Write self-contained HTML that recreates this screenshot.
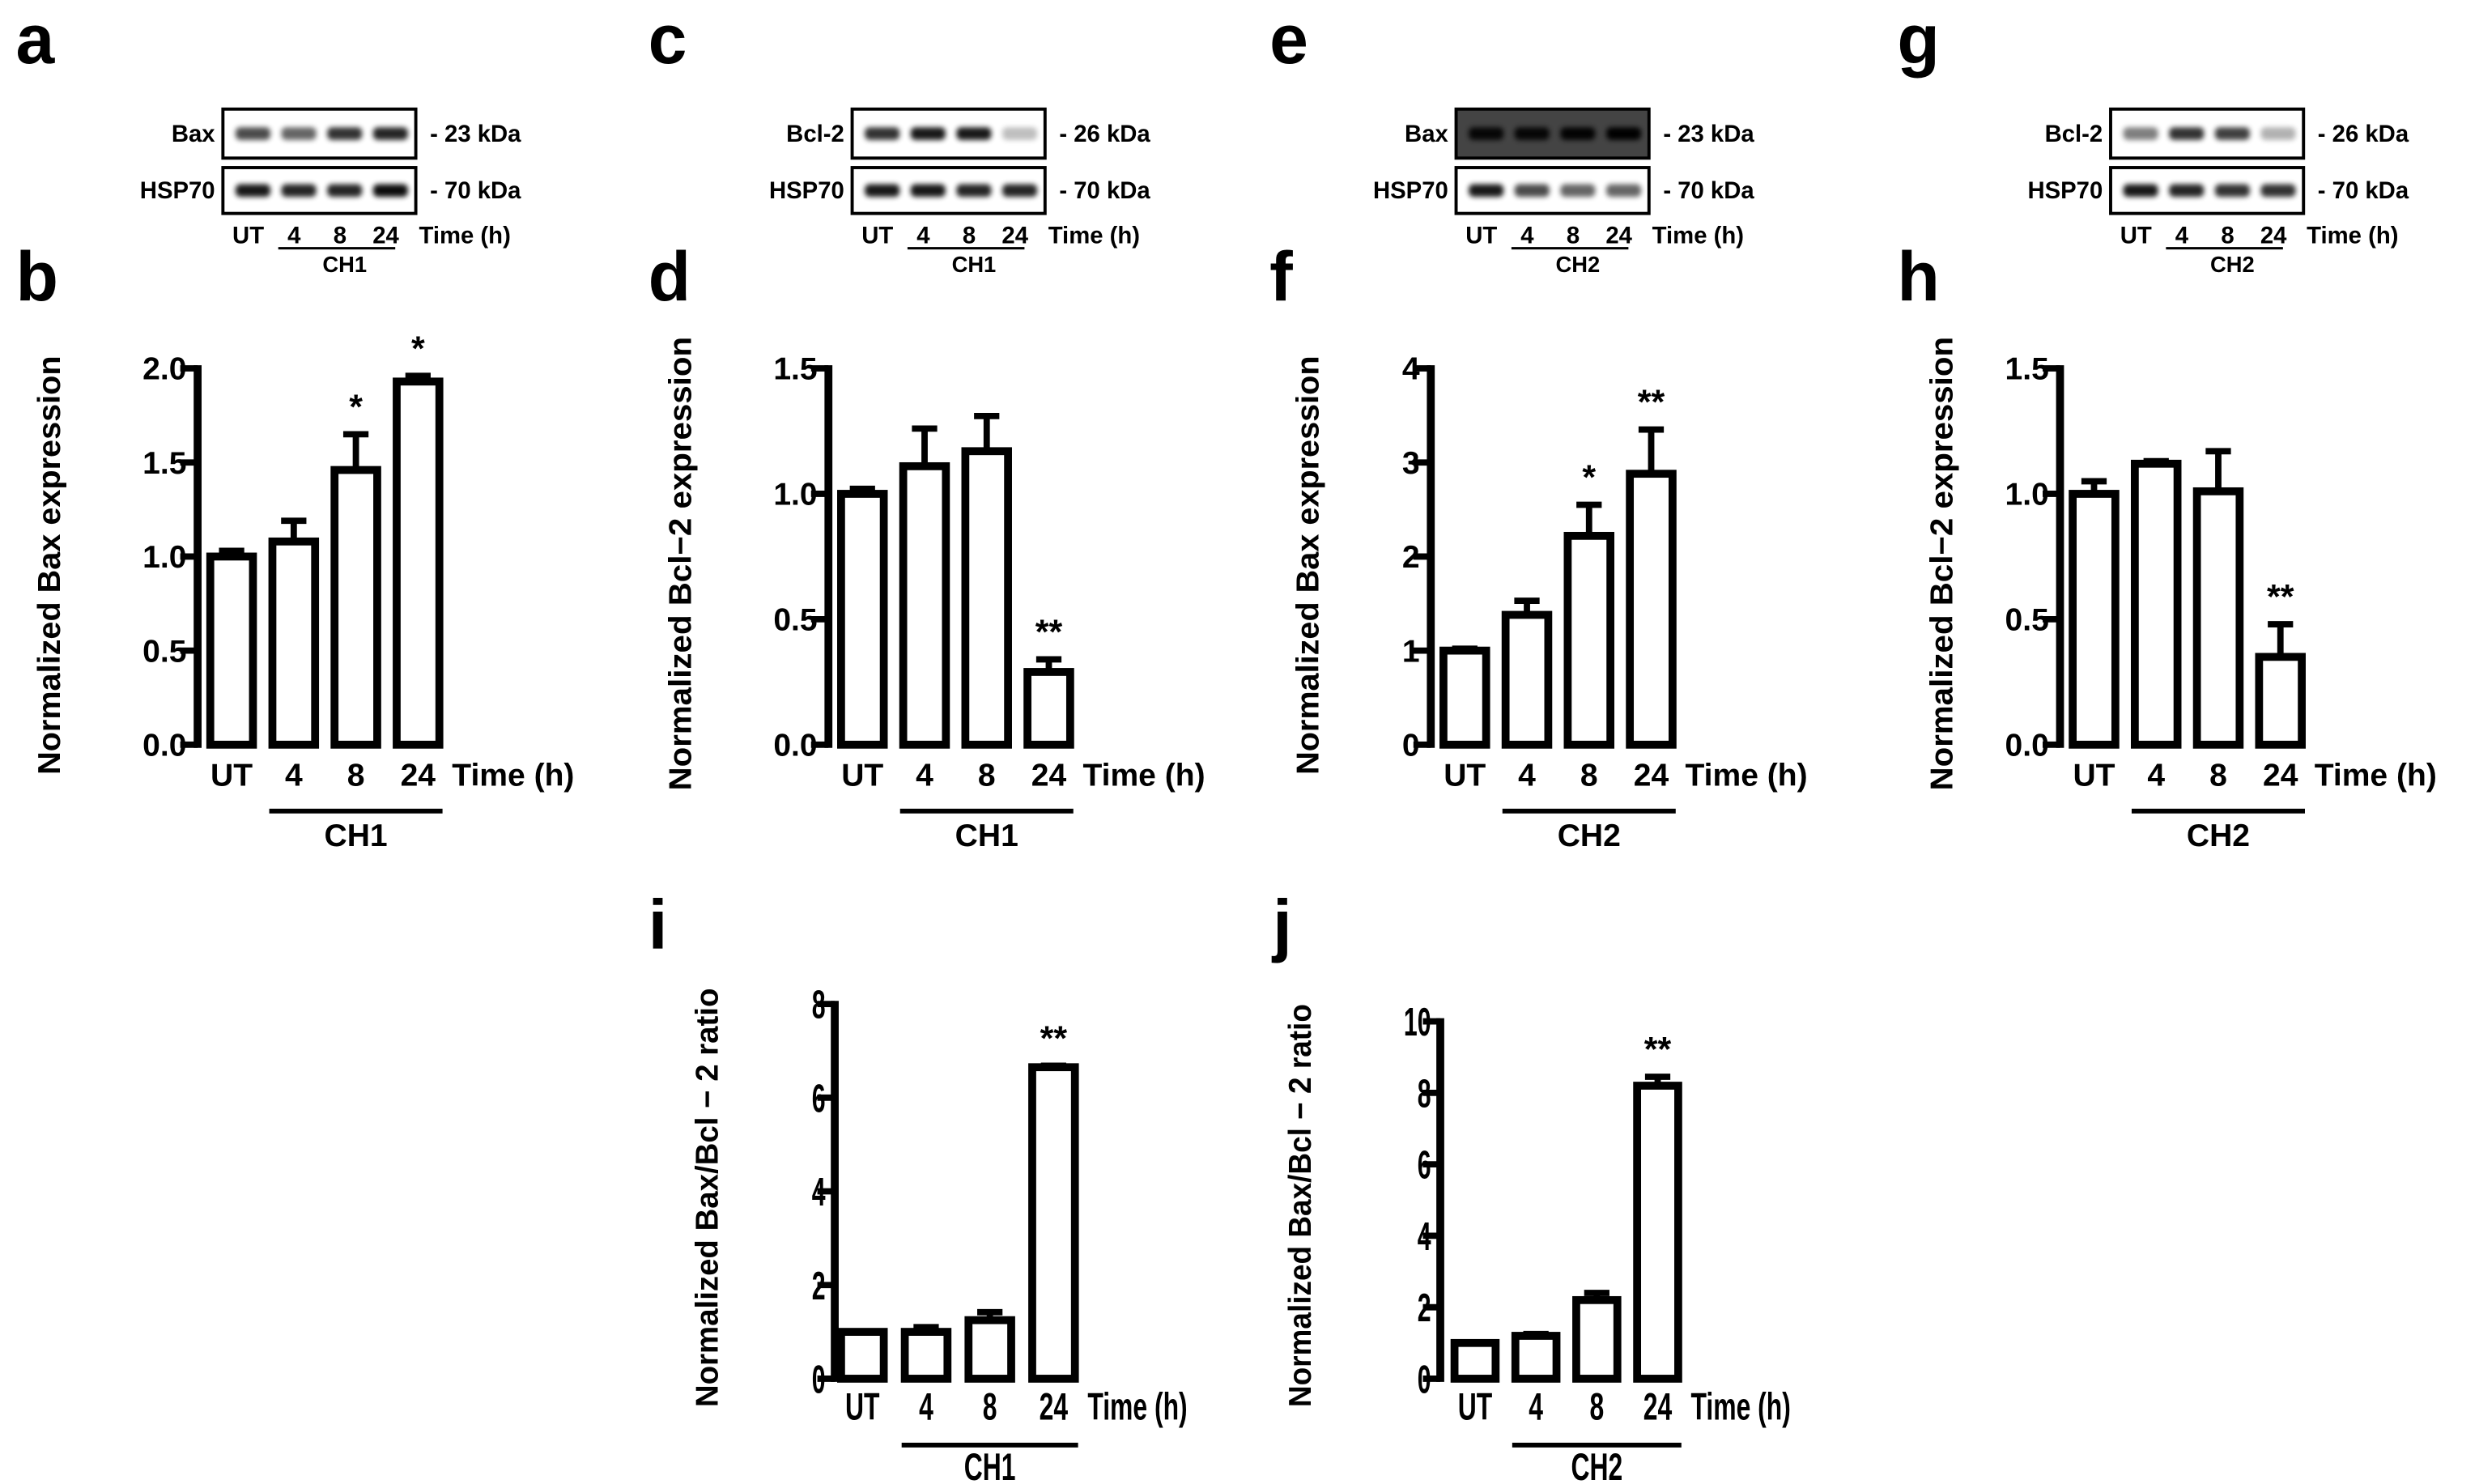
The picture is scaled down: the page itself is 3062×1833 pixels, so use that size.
<!DOCTYPE html>
<html><head><meta charset="utf-8"><style>
html,body{margin:0;padding:0;background:#fff}
svg{display:block}
text{font-family:"Liberation Sans",Arial,sans-serif;font-weight:bold;fill:#000}
</style></head><body>
<svg id="fig" width="3062" height="1833" viewBox="0 0 1568 938.6" preserveAspectRatio="none" xmlns="http://www.w3.org/2000/svg">
<defs><filter id="blur" x="-50%" y="-50%" width="200%" height="200%"><feGaussianBlur stdDeviation="1.6"/></filter></defs>
</svg>
<script>
const categories = ["UT","4","8","24"];
const bVals = [1.0,1.08,1.46,1.93];  const bErr = [1.03,1.19,1.65,1.96];
const dVals = [1.0,1.11,1.17,0.29];  const dErr = [1.02,1.26,1.31,0.34];
const fVals = [1.0,1.38,2.22,2.88];  const fErr = [1.02,1.53,2.55,3.35];
const hVals = [1.0,1.12,1.01,0.35];  const hErr = [1.05,1.13,1.17,0.48];
const iVals = [1.0,1.0,1.25,6.65];   const iErr = [1.0,1.1,1.42,6.68];
const jVals = [1.0,1.2,2.2,8.2];     const jErr = [1.0,1.25,2.4,8.45];
const bTicks = ["0.0","0.5","1.0","1.5","2.0"];
const dTicks = ["0.0","0.5","1.0","1.5"];
const fTicks = ["0","1","2","3","4"];
const hTicks = ["0.0","0.5","1.0","1.5"];
const iTicks = ["0","2","4","6","8"];
const jTicks = ["0","2","4","6","8","10"];
const bSig = ["","","*","*"];
const dSig = ["","","","**"];
const fSig = ["","","*","**"];
const hSig = ["","","","**"];
const iSig = ["","","","**"];
const jSig = ["","","","**"];
const bBaxBands = [0.7,0.6,0.8,0.85]; const bHspBands = [0.9,0.85,0.85,0.95];
const dBclBands = [0.8,0.9,0.9,0.25]; const dHspBands = [0.9,0.9,0.85,0.85];
const fBaxBands = [0.9,0.9,0.95,1.0]; const fHspBands = [0.9,0.7,0.6,0.6];
const hBclBands = [0.5,0.8,0.75,0.3]; const hHspBands = [0.9,0.85,0.8,0.8];

const NS="http://www.w3.org/2000/svg";
const svg=document.getElementById('fig');
function mk(tag,attrs,parent){const e=document.createElementNS(NS,tag);for(const k in attrs)e.setAttribute(k,attrs[k]);(parent||svg).appendChild(e);return e;}
function txt(s,x,y,size,anchor,parent,extra){const t=mk('text',Object.assign({x:x,y:y,'font-size':size,'text-anchor':anchor||'start'},extra||{}),parent);t.textContent=s;return t;}
function nar(x,s){return {transform:`translate(${x},0) scale(${s},1) translate(${-x},0)`};}

function panelLetter(l,x,y){const t=txt(l,x,y,44,'start');

}

function chart(o){
  const g=mk('g',{});
  
  
  const ymax=parseFloat(o.ticks[o.ticks.length-1]);
  const y=v=>o.y0-(v/ymax)*(o.y0-o.yTop);
  const bx=i=>o.ax+o.off+i*o.step;
  const fs=o.narrow?25:20, sc=o.narrow?0.62:1, xs=o.narrow?0.68:1, xfs=o.narrow?24:20;
  const ax=mk('line',{x1:o.ax,y1:o.yTop-2,x2:o.ax,y2:o.y0+2,stroke:'#000','stroke-width':5},g);
  
  
  o.ticks.forEach((t,k)=>{
    const v=parseFloat(t);
    const tk=mk('line',{x1:o.ax-11,y1:y(v),x2:o.ax,y2:y(v),stroke:'#000','stroke-width':4},g);
    
    
    const tl=txt(t,o.ax-7,y(v)+(o.narrow?9:7),fs,'end',g,o.narrow?nar(o.ax-4,sc):{});
    
    
  });
  o.vals.forEach((v,i)=>{
    const x=bx(i), top=y(v), cx=x+o.w/2;
    const el=mk('line',{x1:cx,y1:y(o.err[i]),x2:cx,y2:top,stroke:'#000','stroke-width':4},g);
    
    
    const cap=mk('line',{x1:cx-8,y1:y(o.err[i]),x2:cx+8,y2:y(o.err[i]),stroke:'#000','stroke-width':4},g);
    
    
    const r=mk('rect',{x:x,y:top,width:o.w,height:o.y0-top,fill:'#fff',stroke:'#000','stroke-width':5},g);
    
    
    if(o.sig[i]){const s=txt(o.sig[i],cx,y(o.err[i])-10,22,'middle',g);
      
      }
    const lx=txt(categories[i],cx,o.y0+26,xfs,'middle',g,o.narrow?nar(cx,xs):{});
    
    
  });
  const tx=bx(3)+o.w+8;
  const tt=txt('Time (h)',tx,o.y0+26,xfs,'start',g,o.narrow?nar(tx,xs):{});
  
  
  const ul=mk('line',{x1:bx(1)-2,y1:o.y0+42,x2:bx(3)+o.w+2,y2:o.y0+42,stroke:'#000','stroke-width':3},g);
  
  
  const gx=(bx(1)+bx(3)+o.w)/2;
  const gl=txt(o.group,gx,o.y0+64,xfs,'middle',g,o.narrow?nar(gx,xs):{});
  
  
  const yc=(o.titleTop+o.titleBot)/2;
  const yt=txt(o.title,0,0,20,'middle',g,{transform:`translate(${o.titleX},${yc}) rotate(-90)`,textLength:o.titleBot-o.titleTop,lengthAdjust:'spacingAndGlyphs'});
  
  
}

function blot(o){
  const g=mk('g',{});
  
  
  const rows=[{lab:o.prot,kda:o.kda,y:69,h:31,bands:o.b1,bg:o.dark?'#444':'#fff'},{lab:'HSP70',kda:'- 70 kDa',y:106,h:29,bands:o.b2,bg:'#fff'}];
  rows.forEach(r=>{
    mk('rect',{x:o.x,y:r.y,width:122,height:r.h,fill:r.bg,stroke:'none'},g);
    r.bands.forEach((b,i)=>{
      const cx=o.x+18+i*29;
      const e=mk('rect',{x:cx-10,y:r.y+r.h/2-4,width:22,height:8,rx:3,fill:'#000',opacity:b,filter:'url(#blur)'},g);
      
      
    });
    const box=mk('rect',{x:o.x,y:r.y,width:122,height:r.h,fill:'none',stroke:'#000','stroke-width':2},g);
    
    
    const l=txt(r.lab,o.x-5,r.y+r.h/2+5,15,'end',g);
    
    
    const k=txt(r.kda,o.x+131,r.y+r.h/2+5,15,'start',g);
    
    
  });
  categories.forEach((c,i)=>{
    const t=txt(c,o.x+16+i*29,154,15,'middle',g);
    
    
  });
  const tm=txt('Time (h)',o.x+124,154,15,'start',g);
  
  
  const u=mk('line',{x1:o.x+35,y1:157,x2:o.x+109,y2:157,stroke:'#000','stroke-width':1.5},g);
  
  
  const gl=txt(o.group,o.x+77,172,14,'middle',g);
  
  
}

[['a',10,40],['c',410,40],['e',803,40],['g',1200,40],['b',10,190],['d',410,190],['f',803,190],['h',1200,190],['i',410,600],['j',805,600]].forEach(p=>panelLetter(p[0],p[1],p[2]));

blot({name:'blot-a',x:141,prot:'Bax',kda:'- 23 kDa',b1:bBaxBands,b2:bHspBands,group:'CH1'});
blot({name:'blot-c',x:539,prot:'Bcl-2',kda:'- 26 kDa',b1:dBclBands,b2:dHspBands,group:'CH1'});
blot({name:'blot-e',x:921,prot:'Bax',kda:'- 23 kDa',b1:fBaxBands,b2:fHspBands,group:'CH2',dark:true});
blot({name:'blot-g',x:1335,prot:'Bcl-2',kda:'- 26 kDa',b1:hBclBands,b2:hHspBands,group:'CH2'});

chart({name:'chart-b',ax:125,off:8,step:39.3,w:27,yTop:233,y0:471,vals:bVals,err:bErr,ticks:bTicks,sig:bSig,group:'CH1',title:'Normalized Bax expression',titleX:38,titleTop:225,titleBot:490});
chart({name:'chart-d',ax:524,off:8,step:39.3,w:27,yTop:233,y0:471,vals:dVals,err:dErr,ticks:dTicks,sig:dSig,group:'CH1',title:'Normalized Bcl\u22122 expression',titleX:437,titleTop:213,titleBot:500});
chart({name:'chart-f',ax:905,off:8,step:39.3,w:27,yTop:233,y0:471,vals:fVals,err:fErr,ticks:fTicks,sig:fSig,group:'CH2',title:'Normalized Bax expression',titleX:834,titleTop:225,titleBot:490});
chart({name:'chart-h',ax:1303,off:8,step:39.3,w:27,yTop:233,y0:471,vals:hVals,err:hErr,ticks:hTicks,sig:hSig,group:'CH2',title:'Normalized Bcl\u22122 expression',titleX:1235,titleTop:213,titleBot:500});
chart({name:'chart-i',ax:528,off:4,step:40.3,w:27,yTop:635,y0:872,vals:iVals,err:iErr,ticks:iTicks,sig:iSig,group:'CH1',title:'Normalized Bax/Bcl \u2212 2 ratio',titleX:454,titleTop:625,titleBot:890,narrow:true});
chart({name:'chart-j',ax:911,off:9,step:38.5,w:26,yTop:646,y0:872,vals:jVals,err:jErr,ticks:jTicks,sig:jSig,group:'CH2',title:'Normalized Bax/Bcl \u2212 2 ratio',titleX:829,titleTop:635,titleBot:890,narrow:true});
</script>
</body></html>
